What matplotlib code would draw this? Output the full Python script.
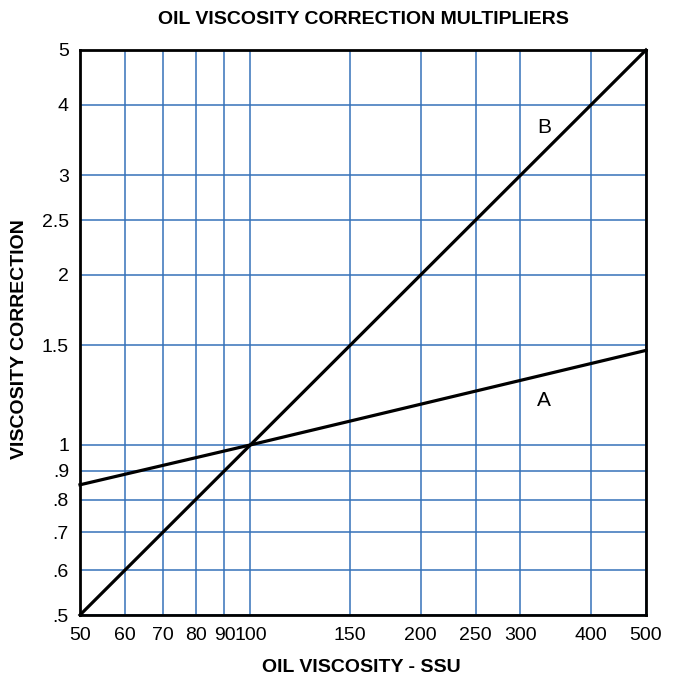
import matplotlib
matplotlib.use('Agg')
import matplotlib.pyplot as plt
from matplotlib.ticker import FixedLocator, FixedFormatter, NullLocator

plt.rcParams['font.family'] = ['Liberation Sans', 'DejaVu Sans']

# chart data
x_ticks = [50, 60, 70, 80, 90, 100, 150, 200, 250, 300, 400, 500]
x_labels = ['50', '60', '70', '80', '90', '100', '150', '200', '250', '300', '400', '500']
y_ticks = [0.5, 0.6, 0.7, 0.8, 0.9, 1, 1.5, 2, 2.5, 3, 4, 5]
y_labels = ['.5', '.6', '.7', '.8', '.9', '1', '1.5', '2', '2.5', '3', '4', '5']

line_a_x = [50, 100, 500]
line_a_y = [0.85, 1.0, 1.47]
line_b_x = [50, 100, 500]
line_b_y = [0.5, 1.0, 5.0]

label_a = (330, 1.20)
label_b = (330, 3.65)

grid_blue = '#3572b9'

fig = plt.figure(figsize=(6.78, 6.83), dpi=100)
ax = fig.add_axes([80 / 678, 1 - 615 / 683, 566 / 678, 565 / 683])

ax.set_xscale('log')
ax.set_yscale('log')
ax.set_xlim(50, 500)
ax.set_ylim(0.5, 5)

ax.xaxis.set_major_locator(FixedLocator(x_ticks))
ax.xaxis.set_major_formatter(FixedFormatter(x_labels))
ax.xaxis.set_minor_locator(NullLocator())
ax.yaxis.set_major_locator(FixedLocator(y_ticks))
ax.yaxis.set_major_formatter(FixedFormatter(y_labels))
ax.yaxis.set_minor_locator(NullLocator())
ax.tick_params(length=0, labelsize=14)
ax.tick_params(axis='x', pad=9)
ax.tick_params(axis='y', pad=8)

ax.grid(True, color=grid_blue, linewidth=1.1)
for s in ax.spines.values():
  s.set_linewidth(2)
  s.set_zorder(5)

ax.plot(line_a_x, line_a_y, color='black', linewidth=2.3, zorder=4, clip_on=False)
ax.plot(line_b_x, line_b_y, color='black', linewidth=2.3, zorder=4, clip_on=False)
ax.text(label_a[0], label_a[1], 'A', fontsize=15, ha='center', va='center')
ax.text(label_b[0], label_b[1], 'B', fontsize=15, ha='center', va='center')

fig.text(363 / 678, 1 - 19 / 683, 'OIL VISCOSITY CORRECTION MULTIPLIERS', fontsize=14,
         fontweight='bold', ha='center', va='center')
fig.text(361 / 678, 1 - 668 / 683, 'OIL VISCOSITY - SSU', fontsize=14,
         fontweight='bold', ha='center', va='center')
fig.text(20 / 678, 1 - 339 / 683, 'VISCOSITY CORRECTION', fontsize=14,
         fontweight='bold', ha='center', va='center', rotation=90)

fig.savefig('out.png', dpi=100)
